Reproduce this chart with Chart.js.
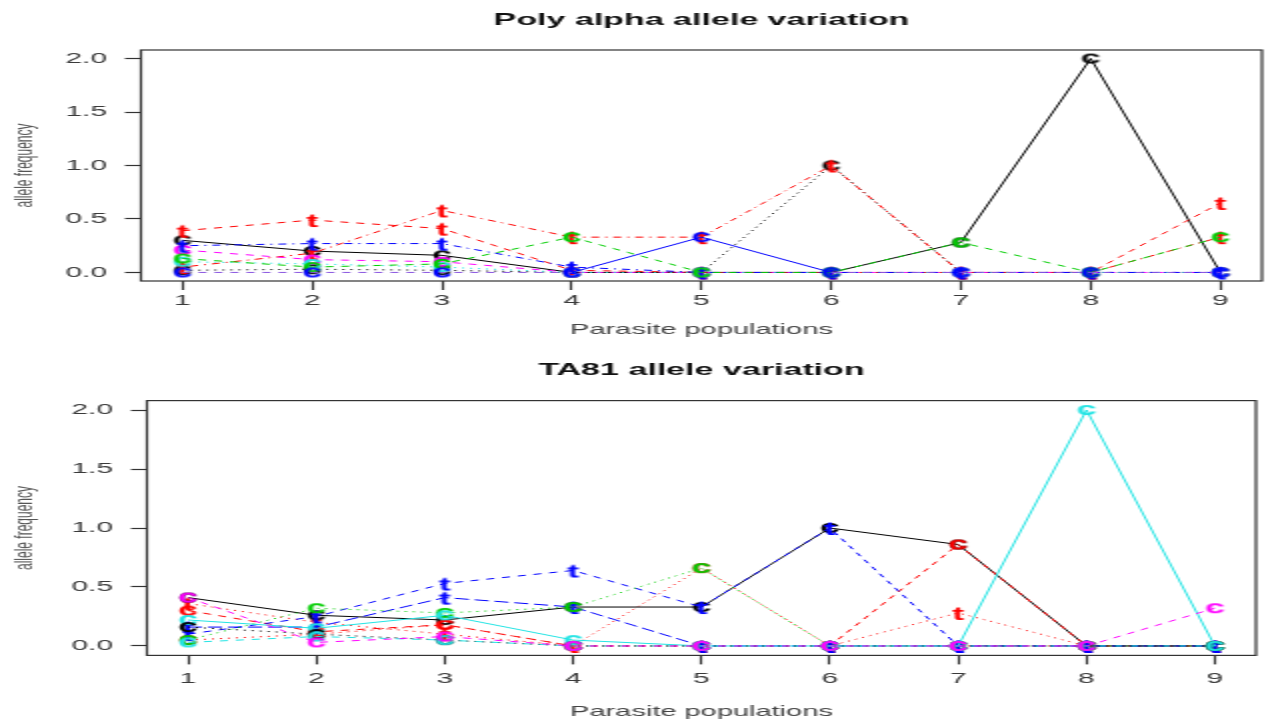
<!DOCTYPE html>
<html>
<head>
<meta charset="utf-8">
<title>Allele variation</title>
<script src="https://cdn.jsdelivr.net/npm/chart.js@4.4.1/dist/chart.umd.min.js"></script>
<style>
  html, body { margin: 0; padding: 0; background: #fff; overflow: hidden; }
  /* the plots are drawn at half width and stretched sideways */
  #stage { position: absolute; left: 0; top: 0; width: 638px; height: 719px; transform: scale(2, 1); transform-origin: 0 0; }
  #stage canvas { display: block; }
</style>
</head>
<body>
<div id="stage">
  <canvas id="polyChart" width="638" height="345"></canvas>
  <canvas id="ta81Chart" width="638" height="374"></canvas>
</div>
<script>
// x categories and y ticks
const populations = [1, 2, 3, 4, 5, 6, 7, 8, 9];
const freqTicks = [0, 0.5, 1, 1.5, 2];

// Poly alpha allele frequencies per population
const polyBlackSolid   = [0.30, 0.20, 0.16, 0.00, 0.00, 0.00, 0.28, 2.00, 0.00];
const polyRedDashed    = [0.39, 0.49, 0.41, 0.02, 0.00, 0.00, 0.00, 0.00, 0.65];
const polyGreenDashed  = [0.13, 0.05, 0.08, 0.33, 0.00, 0.00, 0.28, 0.00, 0.33];
const polyBlueDotDash  = [0.25, 0.27, 0.27, 0.05, 0.00, 0.00, 0.00, 0.00, 0.00];
const polyCyanDotted   = [0.10, 0.08, 0.05, 0.00, 0.00, 0.00, 0.00, 0.00, 0.00];
const polyMagentaDash  = [0.21, 0.12, 0.10, 0.00, 0.00, 0.00, 0.00, 0.00, 0.00];
const polyRedDotDash   = [0.05, 0.18, 0.58, 0.33, 0.33, 1.00, 0.00, 0.00, 0.33];
const polyBlueSolid    = [0.00, 0.00, 0.00, 0.00, 0.33, 0.00, 0.00, 0.00, 0.00];
const polyBlackDotted  = [0.02, 0.03, 0.02, 0.00, 0.00, 1.00, 0.00, 0.00, 0.00];

// TA81 allele frequencies per population
const taBlackSolid     = [0.41, 0.26, 0.22, 0.33, 0.33, 1.00, 0.86, 0.00, 0.00];
const taRedDashed      = [0.30, 0.12, 0.18, 0.00, 0.00, 0.00, 0.86, 0.00, 0.00];
const taRedDottedT     = [0.36, 0.20, 0.10, 0.00, 0.00, 0.00, 0.28, 0.00, 0.00];
const taRedDottedC     = [0.05, 0.10, 0.18, 0.00, 0.66, 0.00, 0.00, 0.00, 0.00];
const taGreenDotted    = [0.05, 0.32, 0.28, 0.33, 0.66, 0.00, 0.00, 0.00, 0.00];
const taBlueDashed     = [0.10, 0.25, 0.53, 0.64, 0.33, 1.00, 0.00, 0.00, 0.00];
const taBlueLongDash   = [0.16, 0.16, 0.41, 0.33, 0.00, 0.00, 0.00, 0.00, 0.00];
const taCyanSolid      = [0.22, 0.15, 0.26, 0.05, 0.00, 0.00, 0.00, 2.00, 0.00];
const taMagentaDash    = [0.41, 0.03, 0.08, 0.00, 0.00, 0.00, 0.00, 0.00, 0.32];
const taCyanDashed     = [0.03, 0.08, 0.05, 0.00, 0.00, 0.00, 0.00, 0.00, 0.00];
const taBlackDotted    = [0.16, 0.10, 0.05, 0.00, 0.00, 0.00, 0.00, 0.00, 0.00];

const FONT = '"Liberation Sans", Arial, sans-serif';

const COLORS = {
  black: '#000000',
  red: '#ff0000',
  green: '#00cd00',
  blue: '#0000ff',
  cyan: '#22e4e4',
  magenta: '#ff00ff'
};

// R style line types
const DASHES = {
  solid: [],
  dashed: [4, 4],
  dotted: [1, 3],
  dotdash: [1, 3, 4, 3],
  longdash: [7, 3]
};

// listed bottom-to-top: later entries are painted over earlier ones
// flatDash: runs along zero are drawn dashed in a lighter tone
const polySeries = [
  { values: polyBlackSolid, color: 'black', lty: 'solid', pch: 'c' },
  { values: polyBlackDotted, color: 'black', lty: 'dotted', pch: 'c' },
  { values: polyRedDashed, color: 'red', lty: 'dashed', pch: 't' },
  { values: polyRedDotDash, color: 'red', lty: 'dotdash', pch: 't' },
  { values: polyMagentaDash, color: 'magenta', lty: 'dashed', pch: 'c' },
  { values: polyCyanDotted, color: 'cyan', lty: 'dotted', pch: 'c' },
  { values: polyBlueDotDash, color: 'blue', lty: 'dotdash', pch: 't' },
  { values: polyGreenDashed, color: 'green', lty: 'dashed', pch: 'c' },
  { values: polyBlueSolid, color: 'blue', lty: 'solid', pch: 'c', flatDash: true }
];

const taSeries = [
  { values: taRedDottedC, color: 'red', lty: 'dotted', pch: 'c' },
  { values: taRedDottedT, color: 'red', lty: 'dotted', pch: 't' },
  { values: taBlackSolid, color: 'black', lty: 'solid', pch: 'c' },
  { values: taRedDashed, color: 'red', lty: 'dashed', pch: 'c' },
  { values: taBlueDashed, color: 'blue', lty: 'dashed', pch: 't' },
  { values: taBlueLongDash, color: 'blue', lty: 'longdash', pch: 't' },
  { values: taGreenDotted, color: 'green', lty: 'dotted', pch: 'c' },
  { values: taCyanSolid, color: 'cyan', lty: 'solid', pch: 'c' },
  { values: taBlackDotted, color: 'black', lty: 'dotted', pch: 'c' },
  { values: taCyanDashed, color: 'cyan', lty: 'dashed', pch: 'c' },
  { values: taMagentaDash, color: 'magenta', lty: 'dashed', pch: 'c' }
];

// letter markers, like pch = "c" / "t" in R
const glyphCache = {};
function glyph(ch, color) {
  const key = ch + color;
  if (glyphCache[key]) return glyphCache[key];
  const c = document.createElement('canvas');
  c.width = 16;
  c.height = 20;
  const g = c.getContext('2d');
  g.font = 'bold 18px ' + FONT;
  g.fillStyle = color;
  g.textAlign = 'center';
  const m = g.measureText(ch);
  g.fillText(ch, c.width / 2, c.height / 2 + (m.actualBoundingBoxAscent - m.actualBoundingBoxDescent) / 2);
  glyphCache[key] = c;
  return c;
}

function buildDatasets(list) {
  // Chart.js paints dataset 0 last, so reverse to keep the list order bottom-to-top
  return list.slice().reverse().map(s => {
    const ds = {
      data: s.values.map((v, i) => ({ x: populations[i], y: v })),
      borderColor: COLORS[s.color],
      borderWidth: 1,
      borderDash: DASHES[s.lty],
      pointStyle: glyph(s.pch, COLORS[s.color]),
      pointRadius: 6,
      pointHoverRadius: 6,
      tension: 0,
      fill: false,
      clip: false
    };
    if (s.flatDash) {
      const flat = c => c.p0.parsed.y === 0 && c.p1.parsed.y === 0;
      ds.segment = {
        borderDash: c => flat(c) ? DASHES.dashed : undefined,
        borderColor: c => flat(c) ? '#8a55e0' : undefined
      };
    }
    return ds;
  });
}

// box around the plot plus main / axis titles
const panelText = {
  id: 'panelText',
  afterDraw(chart, args, opts) {
    const { ctx, chartArea: a } = chart;
    const cx = (a.left + a.right) / 2;
    ctx.save();
    ctx.strokeStyle = '#333';
    ctx.lineWidth = 1.2;
    ctx.strokeRect(a.left, a.top, a.right - a.left, a.bottom - a.top);

    ctx.textAlign = 'center';
    ctx.textBaseline = 'middle';
    ctx.fillStyle = '#111';
    ctx.font = 'bold 17px ' + FONT;
    ctx.fillText(opts.title, cx, opts.titleY);

    ctx.fillStyle = '#444';
    ctx.font = '14.5px ' + FONT;
    ctx.fillText(opts.xTitle, cx, opts.xTitleY);

    ctx.translate(opts.yTitleX, (a.top + a.bottom) / 2);
    ctx.rotate(-Math.PI / 2);
    ctx.fillStyle = '#555';
    ctx.font = '12px ' + FONT;
    ctx.fillText(opts.yTitle, 0, 0);
    ctx.restore();
  }
};

function makeChart(canvasId, series, box) {
  return new Chart(document.getElementById(canvasId), {
    type: 'line',
    data: { datasets: buildDatasets(series) },
    options: {
      responsive: false,
      animation: false,
      devicePixelRatio: 1,
      events: [],
      layout: { padding: { top: box.top, right: box.right, left: 0, bottom: 0 } },
      plugins: {
        legend: { display: false },
        tooltip: { enabled: false },
        panelText: {
          title: box.title,
          titleY: box.titleY,
          xTitle: 'Parasite populations',
          xTitleY: box.xTitleY,
          yTitle: 'allele frequency',
          yTitleX: 12.5
        }
      },
      scales: {
        x: {
          type: 'linear',
          min: 0.68,
          max: 9.32,
          afterBuildTicks: axis => { axis.ticks = populations.map(v => ({ value: v })); },
          afterFit: axis => { axis.height = box.xAxisHeight; },
          grid: { drawOnChartArea: false, tickLength: 9, color: '#333', tickWidth: 1.2 },
          border: { display: false },
          ticks: {
            autoSkip: false,
            maxRotation: 0,
            padding: box.xPad,
            color: '#3a3a3a',
            font: { family: FONT, size: 15 },
            callback: v => String(v)
          }
        },
        y: {
          type: 'linear',
          min: -0.08,
          max: 2.08,
          afterBuildTicks: axis => { axis.ticks = freqTicks.map(v => ({ value: v })); },
          afterFit: axis => { axis.width = box.left; },
          grid: { drawOnChartArea: false, tickLength: 8, color: '#333', tickWidth: 1.2 },
          border: { display: false },
          ticks: {
            padding: 9,
            color: '#3a3a3a',
            font: { family: FONT, size: 15 },
            callback: v => v.toFixed(1)
          }
        }
      }
    },
    plugins: [panelText]
  });
}

makeChart('polyChart', polySeries, {
  title: 'Poly alpha allele variation',
  titleY: 20,
  xTitleY: 330,
  top: 50,
  right: 1.5,
  left: 70.5,
  xAxisHeight: 64,
  xPad: 2
});

makeChart('ta81Chart', taSeries, {
  title: 'TA81 allele variation',
  titleY: 25,
  xTitleY: 367,
  top: 55.6,
  right: 10,
  left: 73.5,
  xAxisHeight: 63.6,
  xPad: 5
});
</script>
</body>
</html>
